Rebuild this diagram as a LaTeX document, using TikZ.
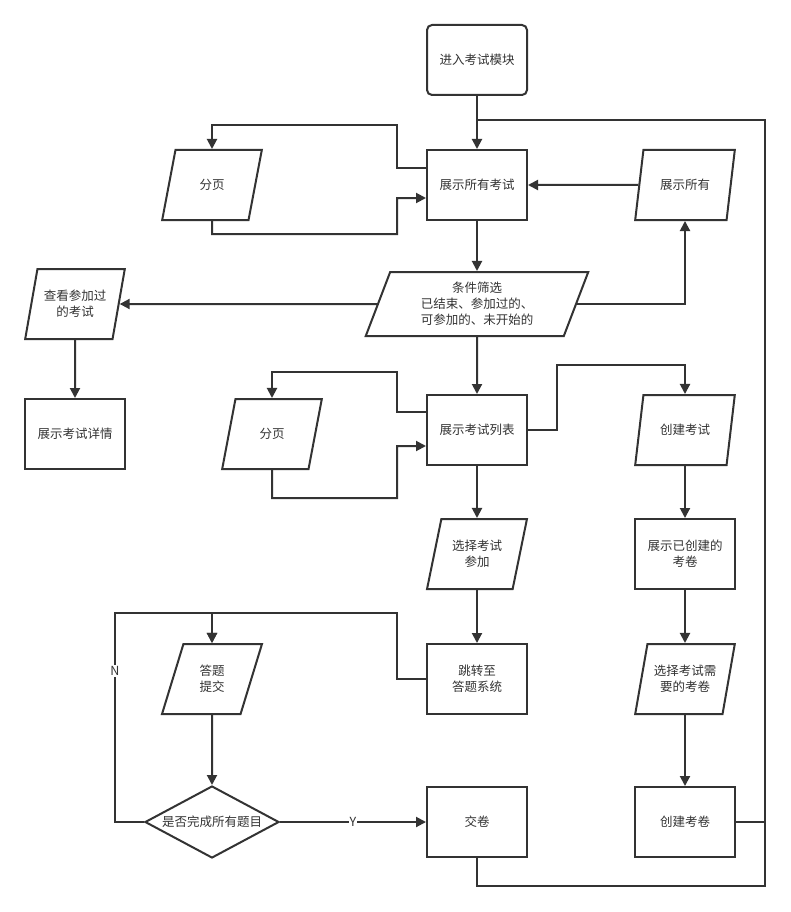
\documentclass[tikz,border=0pt]{standalone}
\usepackage{fontspec}
\setmainfont{Noto Sans CJK SC}
\usetikzlibrary{shapes.geometric,arrows.meta}
\definecolor{ink}{HTML}{333333}
\tikzset{
  base/.style={draw=ink, line width=2pt, text=ink, align=center,
    font=\fontsize{12.5}{16}\selectfont, inner sep=2pt},
  proc/.style={base, rectangle, minimum width=100pt, minimum height=70pt},
  startbox/.style={proc, rounded corners=5pt},
  para/.style={base, trapezium, trapezium left angle=71, trapezium right angle=109,
    trapezium stretches=true, minimum width=100pt, minimum height=70pt},
  decision/.style={base, diamond, aspect=1.87, minimum width=134pt, minimum height=72pt, inner sep=0pt},
  conn/.style={draw=ink, line width=2pt},
  arr/.style={conn, -{Triangle[length=10pt, width=10pt]}},
  lbl/.style={fill=white, text=ink, font=\fontsize{12.5}{16}\selectfont, inner sep=1pt}
}
\begin{document}
\begin{tikzpicture}[x=1pt, y=-1pt]
\useasboundingbox[fill=white] (0,0) rectangle (790,912);
% nodes
\node[startbox] (start) at (477,60) {进入考试模块};
\node[proc] (all) at (477,185) {展示所有考试};
\node[para] (fy1) at (212,185) {分页};
\node[para] (showall) at (685,185) {展示所有};
\node[para, minimum width=223pt, minimum height=64pt] (filter) at (477,304) {条件筛选\\已结束、参加过的、\\可参加的、未开始的};
\node[para] (viewed) at (75,304) {查看参加过\\的考试};
\node[proc] (detail) at (75,434) {展示考试详情};
\node[para] (fy2) at (272,434) {分页};
\node[proc] (list) at (477,430) {展示考试列表};
\node[para] (create) at (685,430) {创建考试};
\node[para] (select) at (477,554) {选择考试\\参加};
\node[proc] (created) at (685,554) {展示已创建的\\考卷};
\node[para] (ans) at (212,679) {答题\\提交};
\node[proc] (jump) at (477,679) {跳转至\\答题系统};
\node[para] (choose) at (685,679) {选择考试需\\要的考卷};
\node[decision] (dia) at (212,822) {是否完成所有题目};
\node[proc] (submit) at (477,822) {交卷};
\node[proc] (paper) at (685,822) {创建考卷};
\coordinate (j1) at (477,120);
% connectors
\draw[arr] (start) -- (all);
\draw[conn] (paper.east) -- (765,822) -- (765,120) -- (j1);
\draw[conn] (submit.south) |- (765,886) -- (765,822);
\draw[arr] ([yshift=17pt]all.west) -- (397,168) -- (397,125) -| (fy1.north);
\draw[arr] (fy1.south) -- (212,234) -| (397,198) -- ([yshift=-13pt]all.west);
\draw[arr] (showall.west) -- (all.east);
\draw[arr] (all) -- (filter);
\draw[arr] (filter.east) -| (showall.south);
\draw[arr] (filter.west) -- (viewed.east);
\draw[arr] (viewed.south) -- (detail.north);
\draw[arr] (filter.south) -- (list.north);
\draw[arr] ([yshift=18pt]list.west) -- (397,412) -- (397,372) -| (fy2.north);
\draw[arr] (fy2.south) -- (272,498) -| (397,446) -- ([yshift=-16pt]list.west);
\draw[arr] (list.east) -| (557,365) -| (create.north);
\draw[arr] (list) -- (select);
\draw[arr] (select) -- (jump);
\draw[arr] (jump.west) -| (397,613) -| (ans.north);
\draw[arr] (dia.west) -- (115,822) -- (115,613) -| (ans.north);
\node[lbl] (nlab) at (115,671) {N};
\draw[arr] (ans) -- (dia);
\draw[arr] (dia.east) -- (submit.west) node[lbl, midway] (ylab) {Y};
\draw[arr] (create) -- (created);
\draw[arr] (created) -- (choose);
\draw[arr] (choose) -- (paper);
\end{tikzpicture}
\end{document}
